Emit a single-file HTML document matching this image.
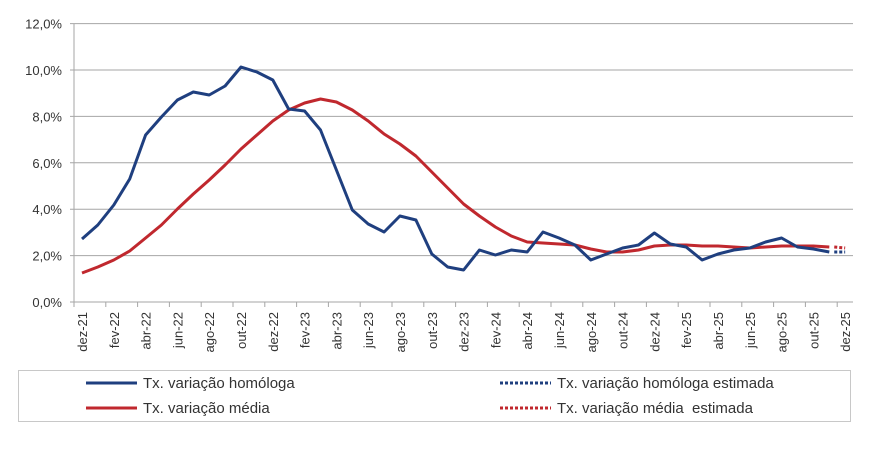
<!DOCTYPE html>
<html><head><meta charset="utf-8"><style>
body{margin:0;background:#fff;}
text{font-family:"Liberation Sans",sans-serif;fill:#333;}
</style></head><body>
<svg width="883" height="447" xmlns="http://www.w3.org/2000/svg">
<g id="grid" stroke="#a6a6a6" stroke-width="1"></g>
<g id="main"></g>
<rect x="18.5" y="370.5" width="832" height="51" fill="none" stroke="#c8c8c8"/>
<line x1="86" y1="383" x2="137" y2="383" stroke="#1f3f7f" stroke-width="3"/>
<text x="143" y="388" font-size="15">Tx. variação homóloga</text>
<line x1="86" y1="408" x2="137" y2="408" stroke="#c0282e" stroke-width="3"/>
<text x="143" y="413" font-size="15">Tx. variação média</text>
<line x1="500" y1="383" x2="551" y2="383" stroke="#1f3f7f" stroke-width="3" stroke-dasharray="3,2"/>
<text x="557" y="388" font-size="15">Tx. variação homóloga estimada</text>
<line x1="500" y1="408" x2="551" y2="408" stroke="#c0282e" stroke-width="3" stroke-dasharray="3,2"/>
<text x="557" y="413" font-size="15">Tx. variação média&#160; estimada</text>
</svg>
<script>
const ns="http://www.w3.org/2000/svg",svg=document.querySelector('svg'),g=document.getElementById('grid'),m=document.getElementById('main');
function el(t,a,p){const e=document.createElementNS(ns,t);for(const k in a)e.setAttribute(k,a[k]);(p||m).appendChild(e);return e;}
const y0=302,ppu=23.2;
for(let i=0;i<=6;i++){const y=y0-i*2*ppu;
 el('line',{x1:70,x2:853,y1:y,y2:y},g);
 const t=el('text',{x:62,y:y+5,'font-size':13,'text-anchor':'end'});t.textContent=(i*2)+',0%';}
el('line',{x1:74,x2:74,y1:23.5,y2:302},g);
const cw=15.9;
const months=['dez','jan','fev','mar','abr','mai','jun','jul','ago','set','out','nov'];
for(let i=0;i<=49;i+=2){el('line',{x1:74+i*cw,x2:74+i*cw,y1:302,y2:307},g);}
for(let i=0;i<=48;i+=2){const x=74+cw*(i+0.5);const mo=months[i%12];const yr=21+Math.floor((i+11)/12);
 const t=el('text',{x:0,y:0,'font-size':13,'text-anchor':'end',transform:`translate(${x+5},312) rotate(-90)`});t.textContent=mo+'-'+yr;}
const B=[239,225,205,179,135,117,100,92,95,86,67,72,80,109,111,130,170,210,224,232,216,220,254,267,270,250,255,250,252,232,238,245,260,254,248,245,233,244,247,260,254,250,248,242,238,247,249,252];
const R=[273,267,260,251,238,225,209,194,180,165,149,135,121,110,103,99,102,110,121,134,144,156,172,188,204,216,227,236,242,243,244,245,249,252,252,250,246,245,245,246,246,247,248,247,246,246,246,247];
const X=i=>74+cw*(i+0.5);
function pts(a){return a.map((v,i)=>X(i).toFixed(1)+','+v).join(' ');}
el('polyline',{points:pts(R),fill:'none',stroke:'#c0282e','stroke-width':3,'stroke-linejoin':'round'});
el('polyline',{points:pts(B),fill:'none',stroke:'#1f3f7f','stroke-width':3,'stroke-linejoin':'round'});
el('line',{x1:X(47)+5,y1:247,x2:X(48),y2:248,stroke:'#c0282e','stroke-width':3,'stroke-dasharray':'3,2'});
el('line',{x1:X(47)+5,y1:252,x2:X(48),y2:252,stroke:'#1f3f7f','stroke-width':3,'stroke-dasharray':'3,2'});
</script>
</body></html>
